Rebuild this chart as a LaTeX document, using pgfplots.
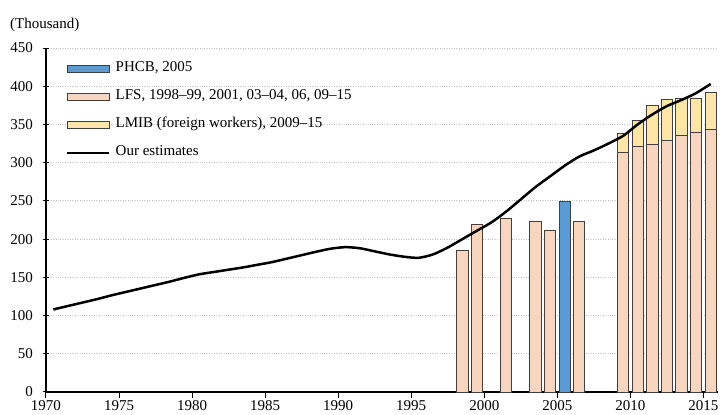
\documentclass[border=0pt]{standalone}
\usepackage{fontspec}
\setmainfont{Liberation Serif}
\usepackage{pgfplots}
\pgfplotsset{compat=1.18}
\definecolor{phcbblue}{HTML}{5B9BD5}
\definecolor{lfspeach}{HTML}{F8D5BF}
\definecolor{lmibyellow}{HTML}{FFE6A6}
\definecolor{baredge}{HTML}{404040}
\definecolor{gridgray}{HTML}{C8C8C8}

\begin{document}
\fontsize{15}{17}\selectfont
\begin{tikzpicture}
\begin{axis}[
at={(0,0)}, anchor=south west,
scale only axis,
width=672pt, height=344pt,
xmin=1970, xmax=2016,
ymin=0, ymax=450,
xtick={1970,1975,...,2015},
ytick={0,50,...,450},
/pgf/number format/1000 sep={},
/pgf/number format/assume math mode=true,
axis lines*=left,
axis line style={line width=1.4pt},
tick align=center,
major tick length=6pt,
tick style={black, line width=1pt},
ymajorgrids=true,
major grid style={gridgray, dotted, line width=1pt},
tick label style={font=\fontsize{15}{17}\selectfont},
xticklabel style={yshift=-1pt, inner sep=1pt},
yticklabel style={xshift=-5pt},
ybar, bar shift=0pt, bar width=11.3pt,
clip=false,
legend cell align=left,
legend style={draw=none, fill=none, at={(0.0298,0.957)}, anchor=north west,
  inner sep=0pt, row sep=16pt, column sep=5pt,
  font=\fontsize{15}{17}\selectfont,
  nodes={inner sep=0pt, text height=9pt, text depth=3pt}},
]
% legend entries
\addlegendimage{legend image code/.code={\draw[fill=phcbblue, draw=baredge, line width=0.8pt] (0pt,-3.5pt) rectangle (42pt,3.5pt);}}
\addlegendentry{PHCB, 2005}
\addlegendimage{legend image code/.code={\draw[fill=lfspeach, draw=baredge, line width=0.8pt] (0pt,-3.5pt) rectangle (42pt,3.5pt);}}
\addlegendentry{LFS, 1998--99, 2001, 03--04, 06, 09--15}
\addlegendimage{legend image code/.code={\draw[fill=lmibyellow, draw=baredge, line width=0.8pt] (0pt,-3.5pt) rectangle (42pt,3.5pt);}}
\addlegendentry{LMIB (foreign workers), 2009--15}
\addlegendimage{legend image code/.code={\draw[black, line width=2.5pt] (0pt,0pt) -- (42pt,0pt);}}
\addlegendentry{Our estimates}

% LFS + LMIB (top of stacked bar)
\addplot[forget plot, fill=lmibyellow, draw=baredge, line width=0.8pt] coordinates {
(2009.5,338.5) (2010.5,355) (2011.5,375.5) (2012.5,382.5)
(2013.5,384) (2014.5,383.5) (2015.5,392.5)
};
% LFS
\addplot[forget plot, fill=lfspeach, draw=baredge, line width=0.8pt] coordinates {
(1998.5,185) (1999.5,219) (2001.5,227.5) (2003.5,223) (2004.5,211)
(2006.5,223) (2009.5,313) (2010.5,321) (2011.5,323.5) (2012.5,329.5)
(2013.5,335.5) (2014.5,339.5) (2015.5,343.5)
};
% PHCB
\addplot[forget plot, fill=phcbblue, draw=baredge, line width=0.8pt] coordinates {
(2005.5,249)
};
% Our estimates
\addplot[forget plot, sharp plot, black, line width=2.5pt, line join=round, smooth, tension=0.4] coordinates {
(1970.5,108) (1971.5,112.5) (1972.5,117) (1973.5,121.5) (1974.5,126.5)
(1975.5,131) (1976.5,135.5) (1977.5,140) (1978.5,144.5) (1979.5,149.5)
(1980.5,154) (1981.5,157) (1982.5,160) (1983.5,163) (1984.5,166.5)
(1985.5,170) (1986.5,174.5) (1987.5,179) (1988.5,183.5) (1989.5,187.5)
(1990.5,189.5) (1991.5,188) (1992.5,184) (1993.5,180) (1994.5,177)
(1995.5,175.5) (1996.5,180) (1997.5,189) (1998.5,200) (1999.5,211)
(2000.5,222) (2001.5,236) (2002.5,252) (2003.5,268) (2004.5,282)
(2005.5,296) (2006.5,308) (2007.5,316) (2008.5,325) (2009.5,335)
(2010.5,350) (2011.5,363) (2012.5,374) (2013.5,382) (2014.5,391)
(2015.5,403)
};
\end{axis}
\node[anchor=west, inner sep=0pt] at (-36pt,367pt) {(Thousand)};
\pgfresetboundingbox
\path (-46pt,-23pt) rectangle (680pt,392pt);
\end{tikzpicture}
\end{document}
